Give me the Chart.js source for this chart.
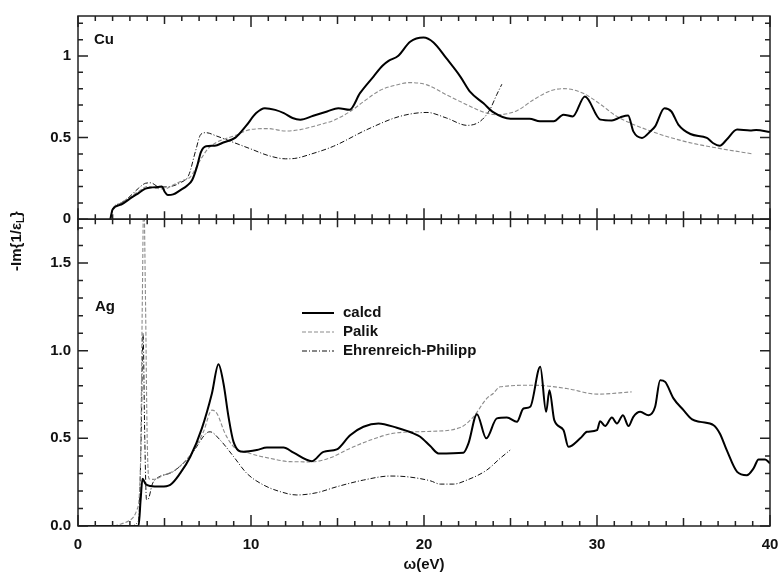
<!DOCTYPE html>
<html>
<head>
<meta charset="utf-8">
<title>-Im{1/eps_L} Cu / Ag</title>
<script src="https://cdn.jsdelivr.net/npm/chart.js@4.4.1/dist/chart.umd.min.js"></script>
<style>
  html, body { margin: 0; padding: 0; background: #fff; }
  canvas { display: block; }
</style>
</head>
<body>
<canvas id="lossChart" width="781" height="576"></canvas>
<script>
// DONNEES
// Cu - calcd
const cuCalcdE = [1.87, 2.0, 2.5, 3.0, 3.5, 3.9, 4.3, 4.6, 4.85, 5.0, 5.2, 5.5, 5.9, 6.3, 6.6, 6.9, 7.1, 7.4, 7.9, 8.4, 9.1, 9.7, 10.3, 10.8, 11.4, 11.9, 12.4, 12.85, 13.6, 14.4, 15.05, 15.7, 16.3, 17.08, 17.6, 17.95, 18.5, 19.2, 19.97, 20.55, 21.3, 22.1, 22.67, 23.44, 24.0, 25.0, 26.1, 26.7, 27.5, 28.06, 28.6, 29.3, 30.2, 30.86, 31.34, 31.8, 32.1, 32.6, 33.1, 33.36, 33.9, 34.3, 34.7, 35.4, 36.35, 36.7, 37.1, 37.5, 38.1, 38.85, 39.2, 40.0];
const cuCalcdV = [0, 0.06, 0.09, 0.126, 0.16, 0.187, 0.195, 0.197, 0.2, 0.17, 0.148, 0.152, 0.177, 0.205, 0.24, 0.33, 0.41, 0.447, 0.45, 0.47, 0.5, 0.57, 0.65, 0.68, 0.67, 0.65, 0.62, 0.61, 0.634, 0.66, 0.68, 0.67, 0.772, 0.874, 0.94, 0.97, 1.0, 1.087, 1.113, 1.083, 0.985, 0.874, 0.78, 0.71, 0.656, 0.616, 0.616, 0.6, 0.6, 0.64, 0.63, 0.752, 0.61, 0.605, 0.624, 0.636, 0.538, 0.498, 0.54, 0.569, 0.68, 0.66, 0.58, 0.522, 0.498, 0.467, 0.45, 0.488, 0.549, 0.543, 0.546, 0.534];
// Cu - Palik
const cuPalikE = [1.87, 2.0, 2.5, 3.0, 3.5, 4.0, 4.5, 5.0, 5.5, 6.0, 6.5, 7.0, 7.5, 8.0, 9.0, 10.0, 11.0, 12.0, 12.85, 14.0, 14.77, 15.73, 16.5, 17.47, 18.3, 19.2, 20.17, 21.3, 22.5, 23.44, 24.2, 25.37, 26.33, 27.3, 28.06, 29.2, 30.18, 31.15, 33.1, 35.05, 36.9, 39.0];
const cuPalikV = [0, 0.06, 0.1, 0.135, 0.17, 0.2, 0.19, 0.185, 0.21, 0.235, 0.26, 0.35, 0.43, 0.47, 0.51, 0.55, 0.555, 0.54, 0.549, 0.58, 0.605, 0.66, 0.72, 0.79, 0.82, 0.837, 0.823, 0.762, 0.7, 0.656, 0.64, 0.665, 0.732, 0.786, 0.8, 0.772, 0.705, 0.63, 0.54, 0.477, 0.437, 0.4];
// Cu - Ehrenreich-Philipp
const cuEhrE = [1.87, 2.0, 2.5, 3.0, 3.5, 3.9, 4.2, 4.7, 5.3, 5.9, 6.4, 6.8, 7.1, 7.4, 8.0, 9.0, 10.0, 11.0, 12.0, 12.5, 13.5, 14.77, 16.7, 18.6, 20.17, 21.3, 22.5, 23.25, 23.8, 24.2, 24.5];
const cuEhrV = [0, 0.06, 0.1, 0.14, 0.19, 0.22, 0.223, 0.197, 0.2, 0.223, 0.27, 0.42, 0.52, 0.53, 0.51, 0.47, 0.43, 0.39, 0.37, 0.372, 0.4, 0.447, 0.549, 0.63, 0.654, 0.62, 0.575, 0.6, 0.67, 0.762, 0.827];

// Ag - calcd
const agCalcdE = [0, 3.5, 3.62, 3.73, 3.9, 4.17, 4.8, 5.33, 5.9, 6.49, 7.16, 7.74, 8.12, 8.41, 8.7, 8.99, 9.57, 10.34, 10.92, 11.88, 12.46, 13.52, 14.19, 14.96, 15.73, 16.5, 17.37, 18.43, 19.39, 19.78, 20.36, 20.84, 22.28, 22.57, 23.06, 23.6, 24.21, 24.79, 25.37, 25.75, 26.14, 26.72, 27.06, 27.25, 27.53, 28.06, 28.35, 29.03, 29.42, 30.0, 30.18, 30.47, 30.86, 31.15, 31.5, 31.82, 32.1, 32.5, 32.98, 33.36, 33.65, 33.94, 34.42, 35.0, 35.5, 35.97, 36.74, 37.1, 37.5, 38.1, 38.66, 39.05, 39.34, 39.72, 40.0];
const agCalcdV = [0, 0, 0.15, 0.27, 0.24, 0.228, 0.225, 0.235, 0.3, 0.395, 0.557, 0.756, 0.923, 0.813, 0.623, 0.48, 0.423, 0.433, 0.448, 0.448, 0.418, 0.37, 0.423, 0.437, 0.518, 0.566, 0.585, 0.56, 0.528, 0.509, 0.456, 0.414, 0.418, 0.471, 0.638, 0.5, 0.614, 0.619, 0.594, 0.67, 0.68, 0.908, 0.651, 0.775, 0.604, 0.547, 0.452, 0.5, 0.537, 0.547, 0.598, 0.57, 0.619, 0.585, 0.632, 0.57, 0.623, 0.651, 0.632, 0.68, 0.832, 0.822, 0.728, 0.661, 0.608, 0.594, 0.575, 0.528, 0.433, 0.309, 0.29, 0.329, 0.38, 0.38, 0.357];
// Ag - Palik
const agPalikE = [0, 2.0, 2.5, 3.02, 3.4, 3.6, 3.72, 3.8, 3.9, 4.0, 4.1, 4.37, 4.94, 5.52, 6.49, 7.25, 7.74, 8.03, 8.5, 9.0, 9.95, 11.1, 12.27, 13.5, 14.58, 15.73, 16.9, 18.43, 20.4, 22.1, 22.86, 23.63, 24.0, 24.4, 26.33, 28.26, 30.0, 32.0];
const agPalikV = [0, 0, 0.012, 0.034, 0.091, 0.3, 1.3, 1.9, 1.3, 0.5, 0.27, 0.266, 0.29, 0.313, 0.405, 0.537, 0.661, 0.642, 0.528, 0.452, 0.414, 0.386, 0.367, 0.366, 0.389, 0.443, 0.49, 0.532, 0.54, 0.562, 0.623, 0.728, 0.756, 0.794, 0.803, 0.784, 0.752, 0.765];
// Ag - Ehrenreich-Philipp
const agEhrE = [3.0, 3.5, 3.65, 3.76, 3.86, 3.96, 4.05, 4.3, 4.56, 5.5, 6.49, 7.45, 7.64, 8.22, 9.0, 9.76, 10.72, 11.69, 12.65, 13.8, 14.96, 16.5, 18.05, 19.0, 20.36, 20.94, 21.7, 22.48, 23.63, 24.4, 24.98];
const agEhrV = [0, 0.03, 0.5, 1.1, 0.5, 0.15, 0.152, 0.24, 0.272, 0.31, 0.4, 0.532, 0.537, 0.49, 0.395, 0.3, 0.234, 0.196, 0.177, 0.19, 0.224, 0.262, 0.285, 0.281, 0.258, 0.239, 0.239, 0.262, 0.319, 0.386, 0.433];

// graduations
const xTicks = [0, 10, 20, 30, 40];
const xTickLabels = ['0', '10', '20', '30', '40'];
const cuTicks = [0, 0.5, 1];
const cuTickLabels = ['0', '0.5', '1'];
const agTicks = [0, 0.5, 1.0, 1.5];
const agTickLabels = ['0.0', '0.5', '1.0', '1.5'];
const seriesNames = ['calcd', 'Palik', 'Ehrenreich-Philipp'];

const FONT = '"Liberation Sans", Arial, Helvetica, sans-serif';

function pts(es, vs) {
    return es.map((e, i) => ({ x: e, y: vs[i] }));
}

// styles des trois courbes
const styles = [
    { borderColor: '#000', borderWidth: 2, borderDash: [] },
    { borderColor: '#8c8c8c', borderWidth: 1.1, borderDash: [4, 2] },
    { borderColor: '#111', borderWidth: 1, borderDash: [5, 2, 1, 2] }
];

function ds(data, axis, k) {
    return Object.assign({
        label: seriesNames[k],
        data: data,
        yAxisID: axis,
        pointRadius: 0,
        cubicInterpolationMode: 'monotone',
        fill: false,
        borderJoinStyle: 'round'
    }, styles[k]);
}

// cadre, graduations internes, textes
const framePlugin = {
    id: 'frame',
    afterDatasetsDraw(chart) {
        const ctx = chart.ctx;
        const x = chart.scales.x;
        const panels = [chart.scales.yCu, chart.scales.yAg];
        ctx.save();
        ctx.strokeStyle = '#222';
        ctx.lineWidth = 1.5;

        panels.forEach(s => {
            ctx.strokeRect(x.left, s.top, x.right - x.left, s.bottom - s.top);
            ctx.beginPath();
            for (let k = 0; k / 10 <= s.max + 1e-9; k++) {
                const py = s.getPixelForValue(k / 10);
                const len = (k % 5 === 0) ? 10 : 5;
                ctx.moveTo(x.left, py); ctx.lineTo(x.left + len, py);
                ctx.moveTo(x.right, py); ctx.lineTo(x.right - len, py);
            }
            for (let e = 0; e <= 40; e++) {
                const px = x.getPixelForValue(e);
                const len = (e % 10 === 0) ? 11 : (e % 5 === 0 ? 8 : 5);
                ctx.moveTo(px, s.bottom); ctx.lineTo(px, s.bottom - len);
                ctx.moveTo(px, s.top); ctx.lineTo(px, s.top + len);
            }
            ctx.stroke();
        });

        ctx.fillStyle = '#111';
        ctx.font = 'bold 15px ' + FONT;
        ctx.textAlign = 'left';
        ctx.textBaseline = 'middle';
        ctx.fillText('Cu', 94, 40);
        ctx.fillText('Ag', 95, 307);

        // legende
        const ys = [313, 332, 351];
        chart.data.datasets.slice(3, 6).forEach((d, i) => {
            ctx.save();
            ctx.strokeStyle = d.borderColor;
            ctx.lineWidth = d.borderWidth;
            ctx.setLineDash(d.borderDash);
            ctx.beginPath();
            ctx.moveTo(302, ys[i]);
            ctx.lineTo(334, ys[i]);
            ctx.stroke();
            ctx.restore();
            ctx.fillText(d.label, 343, ys[i]);
        });

        // titre de l'axe y : -Im{1/eps_L}
        ctx.translate(17, 241);
        ctx.rotate(-Math.PI / 2);
        const a = '-Im{1/ε', b = 'L', c = '}';
        ctx.font = 'bold 15px ' + FONT;
        const wa = ctx.measureText(a).width, wc = ctx.measureText(c).width;
        ctx.font = 'bold 10px ' + FONT;
        const wb = ctx.measureText(b).width;
        const x0 = -(wa + wb + wc) / 2;
        ctx.font = 'bold 15px ' + FONT;
        ctx.fillText(a, x0, 0);
        ctx.fillText(c, x0 + wa + wb, 0);
        ctx.font = 'bold 10px ' + FONT;
        ctx.fillText(b, x0 + wa, 4);
        ctx.restore();
    }
};

const tickFont = { family: FONT, size: 15, weight: 'bold' };

new Chart(document.getElementById('lossChart'), {
    type: 'line',
    data: {
        datasets: [
            ds(pts(cuCalcdE, cuCalcdV), 'yCu', 0),
            ds(pts(cuPalikE, cuPalikV), 'yCu', 1),
            ds(pts(cuEhrE, cuEhrV), 'yCu', 2),
            ds(pts(agCalcdE, agCalcdV), 'yAg', 0),
            ds(pts(agPalikE, agPalikV), 'yAg', 1),
            ds(pts(agEhrE, agEhrV), 'yAg', 2)
        ]
    },
    options: {
        responsive: false,
        animation: false,
        layout: { padding: { left: 0, top: 14, right: 11, bottom: 0 } },
        plugins: { legend: { display: false }, tooltip: { enabled: false } },
        scales: {
            x: {
                type: 'linear',
                min: 0,
                max: 40,
                grid: { display: false, drawTicks: false },
                border: { display: false },
                afterBuildTicks: s => { s.ticks = xTicks.map(v => ({ value: v })); },
                afterFit: s => { s.height = 50; s.paddingLeft = 0; s.paddingRight = 0; },
                ticks: {
                    font: tickFont,
                    color: '#111',
                    padding: 10,
                    maxRotation: 0,
                    autoSkip: false,
                    callback: (v, i) => xTickLabels[i]
                },
                title: {
                    display: true,
                    text: 'ω(eV)',
                    font: tickFont,
                    color: '#111',
                    padding: { top: 4, bottom: 2 }
                }
            },
            yAg: {
                type: 'linear',
                position: 'left',
                stack: 'panels',
                stackWeight: 308,
                weight: 1,
                min: 0,
                max: 1.75,
                grid: { display: false, drawTicks: false },
                border: { display: false },
                afterBuildTicks: s => { s.ticks = agTicks.map(v => ({ value: v })); },
                afterFit: s => { s.width = 78; },
                ticks: { font: tickFont, color: '#111', padding: 7, callback: (v, i) => agTickLabels[i] }
            },
            yCu: {
                type: 'linear',
                position: 'left',
                stack: 'panels',
                stackWeight: 204,
                weight: 2,
                min: 0,
                max: 1.245,
                grid: { display: false, drawTicks: false },
                border: { display: false },
                afterBuildTicks: s => { s.ticks = cuTicks.map(v => ({ value: v })); },
                afterFit: s => { s.width = 78; },
                ticks: { font: tickFont, color: '#111', padding: 7, callback: (v, i) => cuTickLabels[i] }
            }
        }
    },
    plugins: [framePlugin]
});
</script>
</body>
</html>
